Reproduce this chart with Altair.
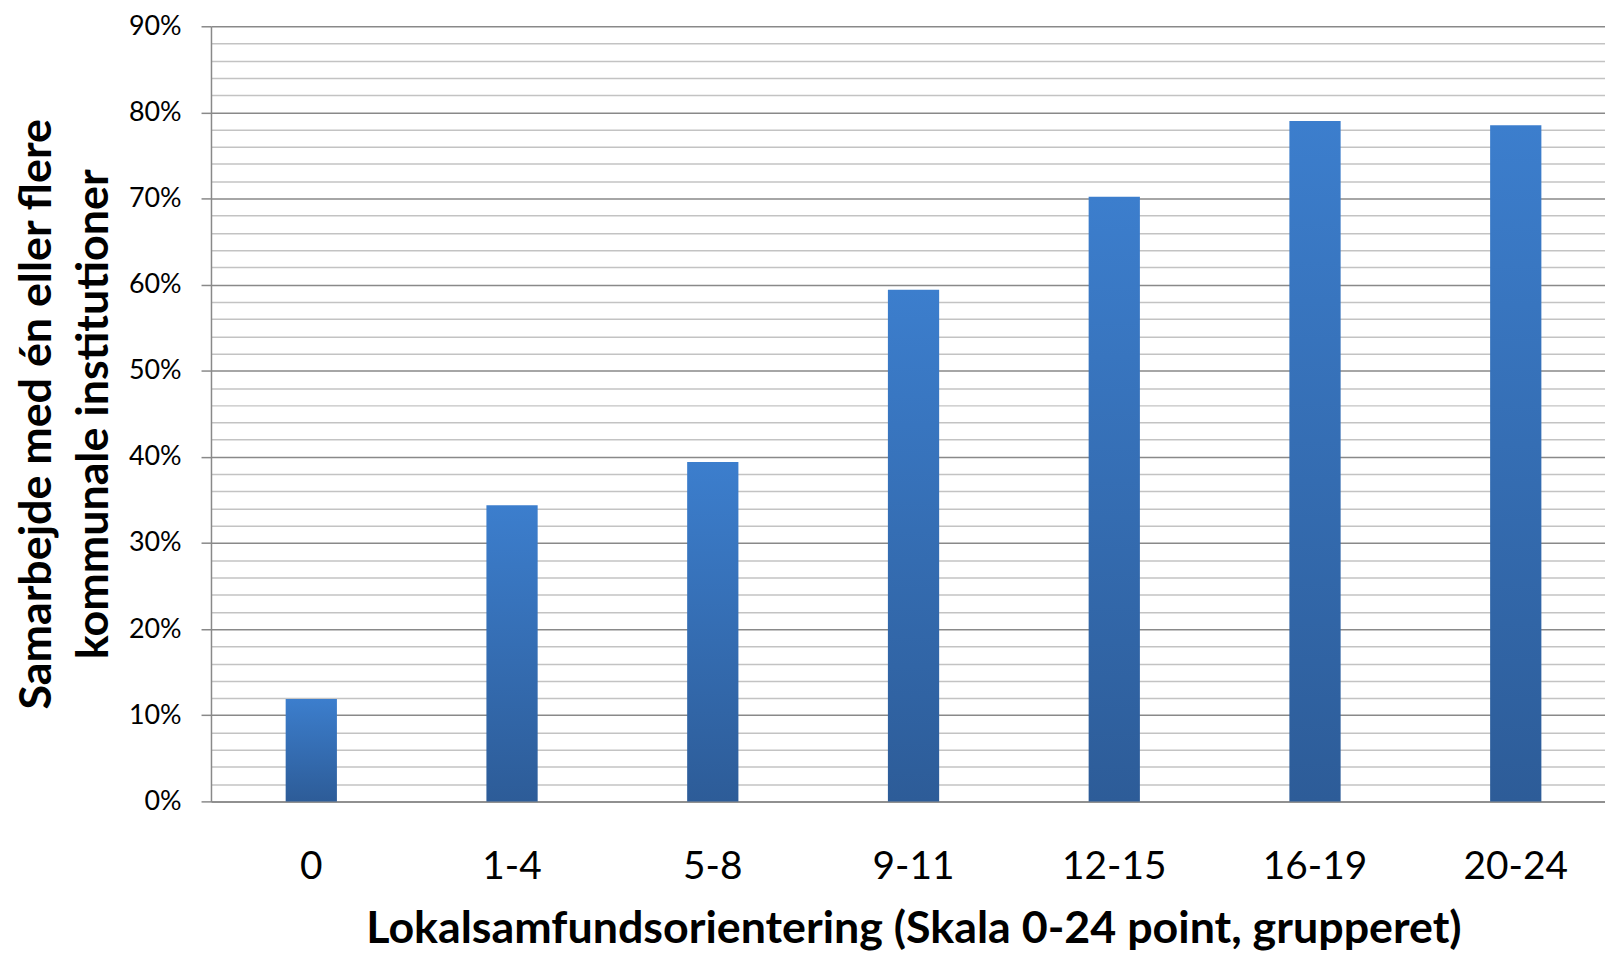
import altair as alt
import pandas as pd

# ---- data ----
categories = ["0", "1-4", "5-8", "9-11", "12-15", "16-19", "20-24"]
shares = [0.119, 0.344, 0.394, 0.594, 0.702, 0.790, 0.785]

major_ticks = [0.0, 0.1, 0.2, 0.3, 0.4, 0.5, 0.6, 0.7, 0.8, 0.9]
minor_ticks = [0.02, 0.04, 0.06, 0.08, 0.12, 0.14, 0.16, 0.18,
               0.22, 0.24, 0.26, 0.28, 0.32, 0.34, 0.36, 0.38,
               0.42, 0.44, 0.46, 0.48, 0.52, 0.54, 0.56, 0.58,
               0.62, 0.64, 0.66, 0.68, 0.72, 0.74, 0.76, 0.78,
               0.82, 0.84, 0.86, 0.88]

x_title = "Lokalsamfundsorientering (Skala 0-24 point, grupperet)"
y_title = ["Samarbejde med én eller flere", "kommunale institutioner"]

df = pd.DataFrame({"group": categories, "share": shares})

FONT = "Lato"
yscale = alt.Scale(domain=[0, 0.9], nice=False, zero=True)
xscale = alt.Scale(paddingInner=0.7447, paddingOuter=0.3445, align=0.54, round=False)

bars = alt.Chart(df).mark_bar(
    color=alt.Gradient(
        gradient="linear",
        stops=[alt.GradientStop(color="#3C7ECD", offset=0),
               alt.GradientStop(color="#2D5C98", offset=1)],
        x1=0, x2=0, y1=0, y2=1)
).encode(
    x=alt.X("group:N", sort=categories, scale=xscale,
            axis=alt.Axis(title=x_title, labelAngle=0, ticks=False, tickSize=0,
                          labelFont=FONT, labelFontSize=39, labelColor="black",
                          labelBaseline="alphabetic", labelPadding=77,
                          titleFont=FONT, titleFontSize=45, titleFontWeight="bold",
                          titleColor="black", titleBaseline="alphabetic",
                          titleY=142, titleX=706,
                          domainColor="#898989", domainWidth=1.5, grid=False)),
    y=alt.Y("share:Q", scale=yscale,
            axis=alt.Axis(values=major_ticks, format=".0%", title=y_title,
                          orient="left",
                          grid=True, gridColor="#898989", gridWidth=1.5,
                          ticks=True, tickSize=10, tickColor="#898989", tickWidth=1.5,
                          domainColor="#898989", domainWidth=1.5,
                          labelFont=FONT, labelFontSize=27, labelColor="black",
                          labelPadding=20,
                          titleFont=FONT, titleFontSize=45, titleFontWeight="bold",
                          titleColor="black", titleBaseline="alphabetic",
                          titleLineHeight=57, titleAngle=270,
                          titleX=-161, titleY=389.5, titleAlign="center"))
)

# invisible layer that only carries the minor (2%) gridlines
minor = alt.Chart(df).mark_point(opacity=0).encode(
    y=alt.Y("share:Q", scale=yscale,
            axis=alt.Axis(values=minor_ticks, grid=True, gridColor="#C3C3C3",
                          orient="right",
                          gridWidth=1.5, labels=False, ticks=False,
                          domain=False, title=None))
)

chart = alt.layer(bars, minor).resolve_axis(y="independent").properties(
    width=1401, height=779,
    autosize=alt.AutoSizeParams(type="none"),
    padding={"left": 204, "top": 16, "right": 0, "bottom": 151},
    background="white",
).configure_view(stroke=None)

chart.save("out.html", embed_options={"renderer": "svg", "actions": False})
